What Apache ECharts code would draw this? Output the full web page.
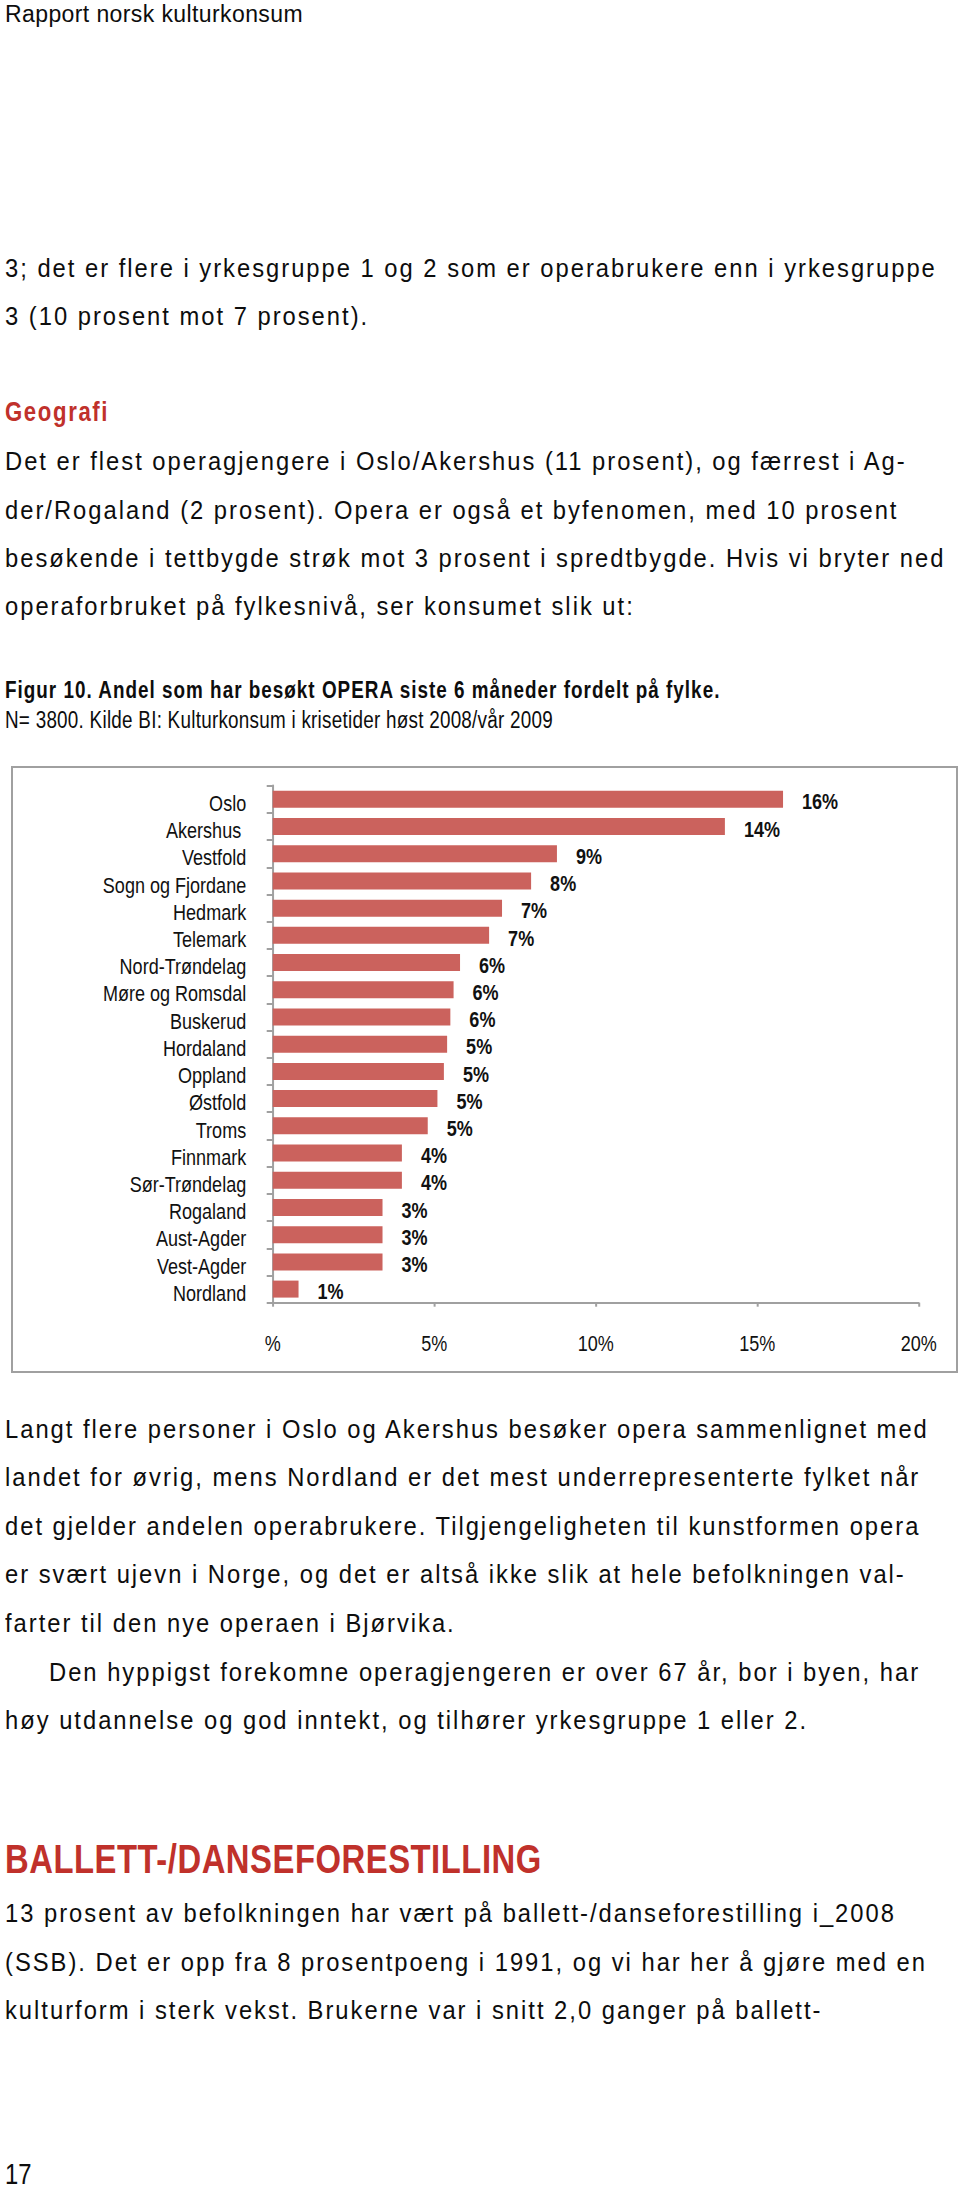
<!DOCTYPE html>
<html>
<head>
<meta charset="utf-8">
<script src="https://cdn.jsdelivr.net/npm/echarts@6/dist/echarts.min.js"></script>
<style>
  html, body { margin:0; padding:0; background:#fff; }
  body { width:960px; height:2186px; position:relative; overflow:hidden; }
  .t { position:absolute; left:5px; white-space:nowrap; color:#0d0d0d; transform-origin:0 0;
       font-family:"Liberation Sans", Arial, sans-serif; }
  .body { font-size:25px; line-height:25px; letter-spacing:2.1px; transform:scaleX(0.95); }
  .hdr { font-size:23px; line-height:23px; letter-spacing:0.4px; }
  .h2 { font-weight:bold; font-size:27px; line-height:27px; letter-spacing:2px; color:#c0312b; transform:scaleX(0.82); }
  .h1 { font-weight:bold; font-size:40px; line-height:40px; letter-spacing:0.65px; color:#c0312b; transform:scaleX(0.82); }
  .cap1 { font-weight:bold; font-size:23px; line-height:23px; letter-spacing:1.24px; transform:scaleX(0.82); }
  .cap2 { font-size:23px; line-height:23px; letter-spacing:0.31px; transform:scaleX(0.82); }
  .pg { font-size:29px; line-height:22px; transform:scaleX(0.82); }
  #frame { position:absolute; left:11px; top:766px; width:947px; height:607px; box-sizing:border-box; border:2.5px solid #a0a0a0; }
  #chart { position:absolute; left:0; top:750px; width:1170.73px; height:640px; transform:scaleX(0.82); transform-origin:0 0; }
</style>
</head>
<body>
<div class="t hdr" style="top:3px">Rapport norsk kulturkonsum</div>

<div class="t body" style="top:255.5px">3; det er flere i yrkesgruppe 1 og 2 som er operabrukere enn i yrkesgruppe</div>
<div class="t body" style="top:303.8px">3 (10 prosent mot 7 prosent).</div>

<div class="t h2" style="top:398.7px">Geografi</div>
<div class="t body" style="top:449.3px">Det er flest operagjengere i Oslo/Akershus (11 prosent), og færrest i Ag-</div>
<div class="t body" style="top:497.6px">der/Rogaland (2 prosent). Opera er også et byfenomen, med 10 prosent</div>
<div class="t body" style="top:545.9px">besøkende i tettbygde strøk mot 3 prosent i spredtbygde. Hvis vi bryter ned</div>
<div class="t body" style="top:594.2px">operaforbruket på fylkesnivå, ser konsumet slik ut:</div>

<div class="t cap1" style="top:678.8px">Figur 10. Andel som har besøkt OPERA siste 6 måneder fordelt på fylke.</div>
<div class="t cap2" style="top:708.8px">N= 3800. Kilde BI: Kulturkonsum i krisetider høst 2008/vår 2009</div>

<div id="frame"></div>
<div id="chart"></div>

<div class="t body" style="top:1417.1px">Langt flere personer i Oslo og Akershus besøker opera sammenlignet med</div>
<div class="t body" style="top:1465.4px">landet for øvrig, mens Nordland er det mest underrepresenterte fylket når</div>
<div class="t body" style="top:1513.9px">det gjelder andelen operabrukere. Tilgjengeligheten til kunstformen opera</div>
<div class="t body" style="top:1562.2px">er svært ujevn i Norge, og det er altså ikke slik at hele befolkningen val-</div>
<div class="t body" style="top:1610.6px">farter til den nye operaen i Bjørvika.</div>
<div class="t body" style="top:1659.5px; left:49px">Den hyppigst forekomne operagjengeren er over 67 år, bor i byen, har</div>
<div class="t body" style="top:1707.8px">høy utdannelse og god inntekt, og tilhører yrkesgruppe 1 eller 2.</div>

<div class="t h1" style="top:1839.4px">BALLETT-/DANSEFORESTILLING</div>
<div class="t body" style="top:1901.3px">13 prosent av befolkningen har vært på ballett-/danseforestilling i_2008</div>
<div class="t body" style="top:1949.6px">(SSB). Det er opp fra 8 prosentpoeng i 1991, og vi har her å gjøre med en</div>
<div class="t body" style="top:1997.9px">kulturform i sterk vekst. Brukerne var i snitt 2,0 ganger på ballett-</div>

<div class="t pg" style="top:2163px">17</div>

<script>
const categories = ['Oslo', 'Akershus ', 'Vestfold', 'Sogn og Fjordane', 'Hedmark', 'Telemark',
  'Nord-Trøndelag', 'Møre og Romsdal', 'Buskerud', 'Hordaland', 'Oppland', 'Østfold', 'Troms',
  'Finnmark', 'Sør-Trøndelag', 'Rogaland', 'Aust-Agder', 'Vest-Agder', 'Nordland'];
const values = [15.8, 14.0, 8.8, 8.0, 7.1, 6.7, 5.8, 5.6, 5.5, 5.4, 5.3, 5.1, 4.8, 4.0, 4.0, 3.4, 3.4, 3.4, 0.8];
const valueLabels = ['16%', '14%', '9%', '8%', '7%', '7%', '6%', '6%', '6%', '5%', '5%', '5%', '5%',
  '4%', '4%', '3%', '3%', '3%', '1%'];
const xTickLabels = ['%', '5%', '10%', '15%', '20%'];

// The chart container is condensed horizontally by CSS (scaleX) so that
// Liberation Sans renders like a narrow grotesque; horizontal sizes are pre-divided.
const SX = 0.82;
const FONT = '"Liberation Sans", Arial, sans-serif';
const AXIS = '#a0a0a0';
const chart = echarts.init(document.getElementById('chart'), null, { renderer: 'svg' });
chart.setOption({
  animation: false,
  grid: { left: 272.7 / SX, top: 35.7, width: 646 / SX, height: 517, containLabel: false, outerBoundsMode: 'none' },
  xAxis: {
    type: 'value', min: 0, max: 20, interval: 5,
    axisLine: { show: true, lineStyle: { color: AXIS, width: 2 } },
    axisTick: { show: true, length: 4, lineStyle: { color: AXIS, width: 2 / SX } },
    splitLine: { show: false },
    axisLabel: {
      margin: 30, fontFamily: FONT, fontSize: 22, color: '#111',
      formatter: (v) => xTickLabels[Math.round(v / 5)]
    }
  },
  yAxis: {
    type: 'category', data: categories, inverse: true,
    axisLine: { show: true, lineStyle: { color: AXIS, width: 2 / SX } },
    axisTick: { show: true, length: 6 / SX, lineStyle: { color: AXIS, width: 2 } },
    axisLabel: { margin: 26.5 / SX, fontFamily: FONT, fontSize: 22, color: '#111', interval: 0,
      verticalAlign: 'top', lineHeight: 8 }
  },
  series: [{
    type: 'bar', data: values, barWidth: 17,
    itemStyle: { color: '#cb625d' },
    label: {
      show: true, position: 'right', distance: 19 / SX, verticalAlign: 'top', lineHeight: 5,
      fontFamily: FONT, fontSize: 22, fontWeight: 'bold', color: '#111',
      formatter: (p) => valueLabels[p.dataIndex]
    }
  }]
});
</script>
</body>
</html>
